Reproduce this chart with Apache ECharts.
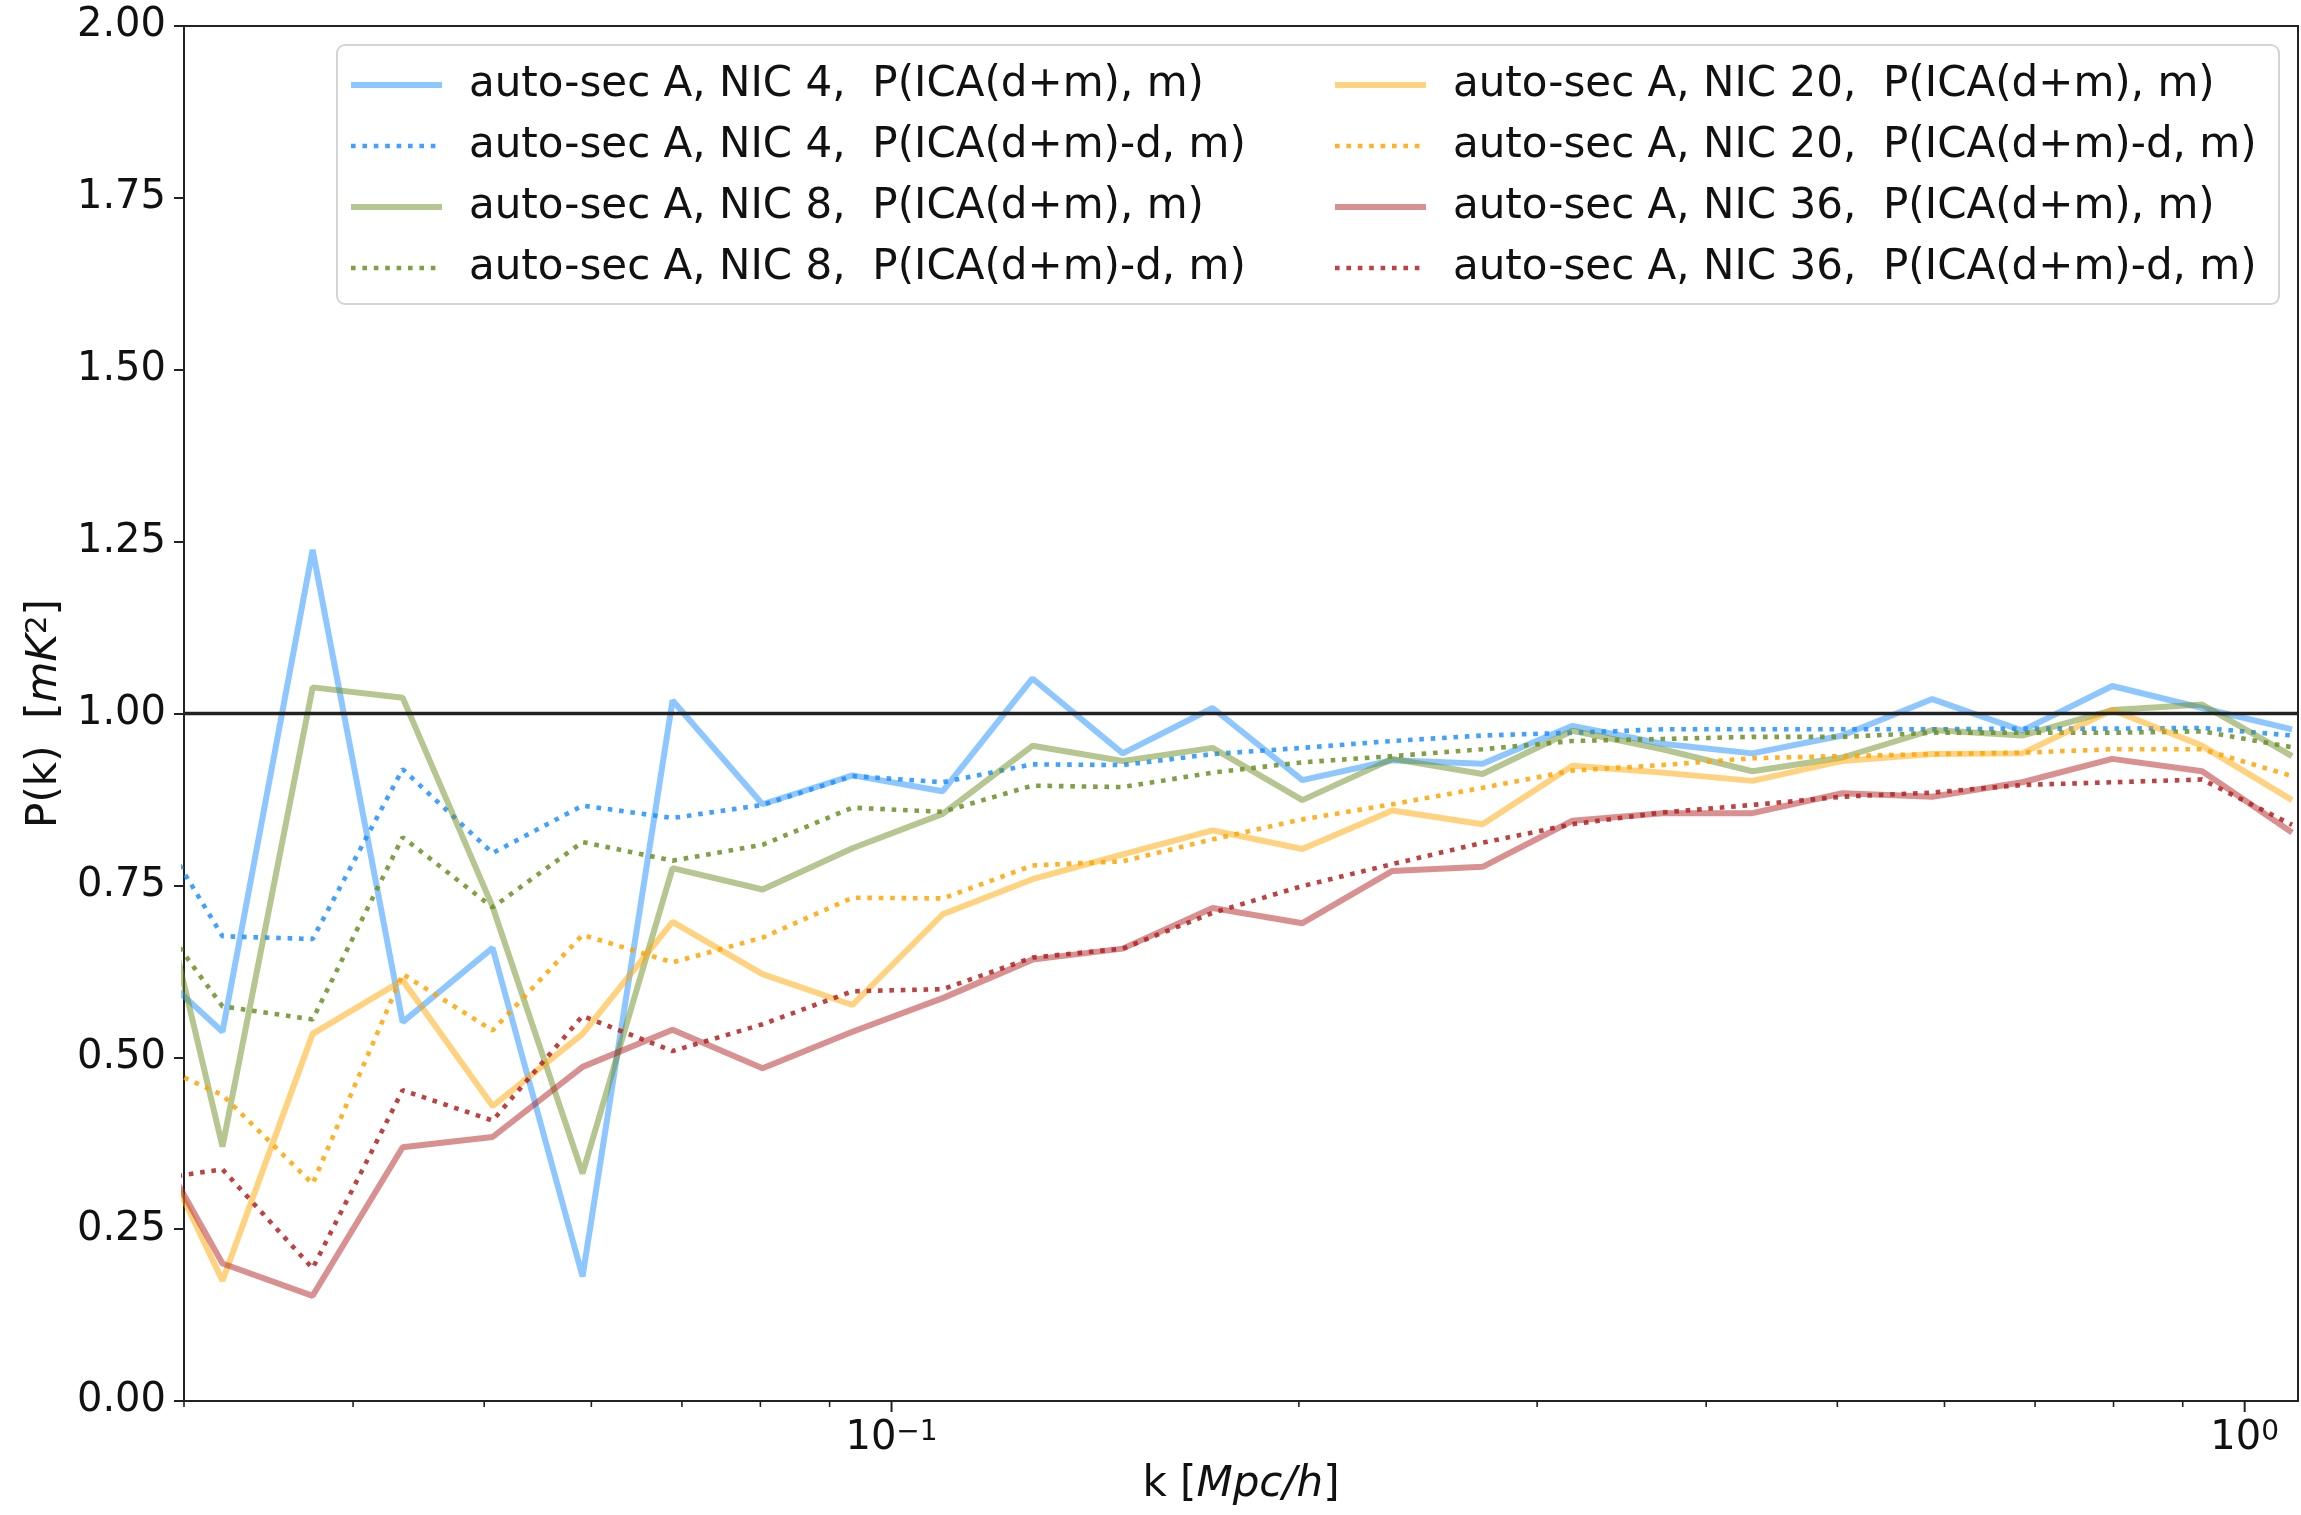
<!DOCTYPE html>
<html>
<head>
<meta charset="utf-8">
<script src="https://cdn.jsdelivr.net/npm/echarts@6/dist/echarts.min.js"></script>
<style>
  html, body { margin: 0; padding: 0; background: #fff; }
  #chart { width: 2301px; height: 1515px; }
</style>
</head>
<body>
<div id="chart"></div>
<script>
// Wavenumber bins k [Mpc/h] (log-spaced; first bin lies just left of the plotted range)
const kBins = [0.02748, 0.03203, 0.03734, 0.04352, 0.05072, 0.05911, 0.06889, 0.08029,
  0.09357, 0.1091, 0.1271, 0.1482, 0.1727, 0.2012, 0.2345, 0.2734, 0.3186, 0.3713,
  0.4327, 0.5043, 0.5877, 0.6849, 0.7982, 0.9302, 1.084];

// NIC 4
const nic4Full = [0.658, 0.537, 1.238, 0.551, 0.659, 0.181, 1.019, 0.868, 0.910, 0.887,
  1.051, 0.942, 1.008, 0.903, 0.932, 0.927, 0.982, 0.956, 0.942, 0.968, 1.021, 0.975,
  1.040, 1.008, 0.977];
const nic4Resid = [0.893, 0.676, 0.672, 0.919, 0.797, 0.866, 0.848, 0.867, 0.909, 0.900,
  0.926, 0.925, 0.941, 0.950, 0.960, 0.968, 0.972, 0.977, 0.977, 0.977, 0.977, 0.978,
  0.978, 0.979, 0.968];
// NIC 8
const nic8Full = [0.923, 0.370, 1.038, 1.023, 0.719, 0.331, 0.775, 0.744, 0.804, 0.854,
  0.953, 0.931, 0.950, 0.874, 0.934, 0.912, 0.975, 0.948, 0.916, 0.936, 0.976, 0.968,
  1.005, 1.013, 0.938];
const nic8Resid = [0.753, 0.574, 0.555, 0.820, 0.718, 0.813, 0.786, 0.809, 0.863, 0.857,
  0.895, 0.893, 0.914, 0.929, 0.938, 0.948, 0.960, 0.963, 0.966, 0.966, 0.972, 0.972,
  0.972, 0.974, 0.951];
// NIC 20
const nic20Full = [0.449, 0.175, 0.534, 0.612, 0.429, 0.534, 0.697, 0.621, 0.576, 0.708,
  0.759, 0.795, 0.830, 0.803, 0.859, 0.839, 0.924, 0.914, 0.902, 0.931, 0.941, 0.942,
  1.005, 0.953, 0.874];
const nic20Resid = [0.505, 0.445, 0.316, 0.621, 0.539, 0.678, 0.638, 0.674, 0.732, 0.731,
  0.779, 0.785, 0.817, 0.846, 0.868, 0.892, 0.917, 0.925, 0.935, 0.938, 0.941, 0.943,
  0.948, 0.948, 0.909];
// NIC 36
const nic36Full = [0.433, 0.200, 0.153, 0.369, 0.384, 0.486, 0.540, 0.484, 0.537, 0.586,
  0.642, 0.658, 0.717, 0.695, 0.771, 0.777, 0.844, 0.855, 0.855, 0.884, 0.879, 0.900,
  0.934, 0.916, 0.827];
const nic36Resid = [0.318, 0.337, 0.193, 0.452, 0.408, 0.560, 0.509, 0.548, 0.596, 0.599,
  0.645, 0.658, 0.710, 0.749, 0.781, 0.812, 0.839, 0.856, 0.867, 0.879, 0.885, 0.896,
  0.900, 0.904, 0.838];

const seriesNames = [
  'auto-sec A, NIC 4,  P(ICA(d+m), m)',
  'auto-sec A, NIC 4,  P(ICA(d+m)-d, m)',
  'auto-sec A, NIC 8,  P(ICA(d+m), m)',
  'auto-sec A, NIC 8,  P(ICA(d+m)-d, m)',
  'auto-sec A, NIC 20,  P(ICA(d+m), m)',
  'auto-sec A, NIC 20,  P(ICA(d+m)-d, m)',
  'auto-sec A, NIC 36,  P(ICA(d+m), m)',
  'auto-sec A, NIC 36,  P(ICA(d+m)-d, m)'
];
const seriesValues = [nic4Full, nic4Resid, nic8Full, nic8Resid,
  nic20Full, nic20Resid, nic36Full, nic36Resid];

// Axis ranges and ticks
const kMin = 0.03, kMax = 1.095;
const pMin = 0, pMax = 2, pStep = 0.25;
const unityLevel = 1.0;
const kMajorTicks = [0.1, 1];
const kMinorTicks = [0.03, 0.04, 0.05, 0.06, 0.07, 0.08, 0.09,
  0.2, 0.3, 0.4, 0.5, 0.6, 0.7, 0.8, 0.9];

const FONT = 'DejaVu Sans';
const INK = '#111';
const rgb = ['30,144,255', '107,142,35', '255,165,0', '178,34,34'];

const lineSeries = seriesNames.map((name, i) => {
  const dotted = i % 2 === 1;
  const c = rgb[Math.floor(i / 2)];
  return {
    name: name,
    type: 'line',
    data: kBins.map((k, j) => [k, seriesValues[i][j]]),
    symbol: 'none',
    clip: true,
    z: 2 + i,
    lineStyle: dotted
      ? { color: 'rgba(' + c + ',0.85)', width: 4.6, type: [4.6, 6.8], cap: 'butt' }
      : { color: 'rgba(' + c + ',0.5)', width: 6, type: 'solid' },
    itemStyle: { color: dotted ? 'rgba(' + c + ',0.85)' : 'rgba(' + c + ',0.5)' }
  };
});

// unity reference line
lineSeries.push({
  name: 'unity',
  type: 'line',
  data: [[kMin, unityLevel], [kMax, unityLevel]],
  symbol: 'none',
  z: 20,
  lineStyle: { color: '#222', width: 3.5 }
});

// x-axis tick marks (major and minor) placed through the axis scale
const tickData = kMajorTicks.map(v => [v, pMin, 1]).concat(kMinorTicks.map(v => [v, pMin, 0]));
lineSeries.push({
  type: 'custom',
  coordinateSystem: 'cartesian2d',
  silent: true,
  clip: false,
  z: 30,
  data: tickData,
  renderItem: function (params, api) {
    const p = api.coord([api.value(0), api.value(1)]);
    const major = api.value(2) === 1;
    return {
      type: 'line',
      shape: { x1: p[0], y1: p[1], x2: p[0], y2: p[1] + (major ? 11 : 6) },
      style: { stroke: '#222', lineWidth: major ? 2 : 1.6 }
    };
  }
});

const legendCommon = {
  orient: 'vertical',
  itemWidth: 91,
  itemHeight: 14,
  itemGap: 19,
  selectedMode: false,
  itemStyle: { opacity: 0, color: 'transparent', borderWidth: 0 },
  lineStyle: { width: 'inherit', opacity: 1 },
  textStyle: { fontFamily: FONT, fontSize: 42, color: INK, lineHeight: 42, padding: [0, 0, 0, 22] }
};

const chart = echarts.init(document.getElementById('chart'), null, { renderer: 'canvas' });
chart.setOption({
  animation: false,
  backgroundColor: '#fff',
  grid: {
    left: 184, right: 3, top: 26, bottom: 114,
    show: true, borderColor: '#222', borderWidth: 2,
    containLabel: false, outerBoundsMode: 'none'
  },
  legend: [
    Object.assign({}, legendCommon, { left: 343, top: 59, data: seriesNames.slice(0, 4) }),
    Object.assign({}, legendCommon, { left: 1327, top: 59, data: seriesNames.slice(4, 8) })
  ],
  graphic: [{
    type: 'rect',
    z: 1,
    shape: { x: 337, y: 45, width: 1942, height: 259, r: 8 },
    style: { fill: 'rgba(255,255,255,0.8)', stroke: '#d4d4d4', lineWidth: 2 }
  }],
  xAxis: {
    type: 'log',
    logBase: 10,
    min: kMin,
    max: kMax,
    axisLine: { show: false },
    axisTick: { show: false },
    splitLine: { show: false },
    minorTick: { show: false },
    axisLabel: {
      margin: 18,
      fontFamily: FONT,
      fontSize: 40,
      color: INK,
      showMinLabel: true,
      showMaxLabel: true,
      formatter: function (v) {
        const e = Math.round(Math.log10(v));
        if (Math.abs(Math.log10(v) - e) > 1e-6) return '';
        return '10{sup|' + (e < 0 ? '\u2212' + (-e) : String(e)) + '}';
      },
      rich: {
        sup: { fontFamily: FONT, fontSize: 28, color: INK, verticalAlign: 'top', lineHeight: 28 }
      }
    },
    name: 'k [{it|Mpc/h}]',
    nameLocation: 'middle',
    nameGap: 62,
    nameTextStyle: {
      fontFamily: FONT, fontSize: 42, color: INK,
      rich: { it: { fontFamily: FONT, fontSize: 42, fontStyle: 'italic', color: INK } }
    }
  },
  yAxis: {
    type: 'value',
    min: pMin,
    max: pMax,
    interval: pStep,
    axisLine: { show: false },
    axisTick: { show: true, length: 10, lineStyle: { color: '#222', width: 2 } },
    splitLine: { show: false },
    axisLabel: {
      margin: 18,
      fontFamily: FONT,
      fontSize: 40,
      color: INK,
      formatter: v => v.toFixed(2)
    },
    name: 'P(k)  [{it|mK}{sup|2}]',
    nameLocation: 'middle',
    nameRotate: 90,
    nameGap: 118,
    nameTextStyle: {
      fontFamily: FONT, fontSize: 42, color: INK,
      rich: {
        it: { fontFamily: FONT, fontSize: 42, fontStyle: 'italic', color: INK },
        sup: { fontFamily: FONT, fontSize: 29, color: INK, verticalAlign: 'top', lineHeight: 29 }
      }
    }
  },
  series: lineSeries
});
</script>
</body>
</html>
